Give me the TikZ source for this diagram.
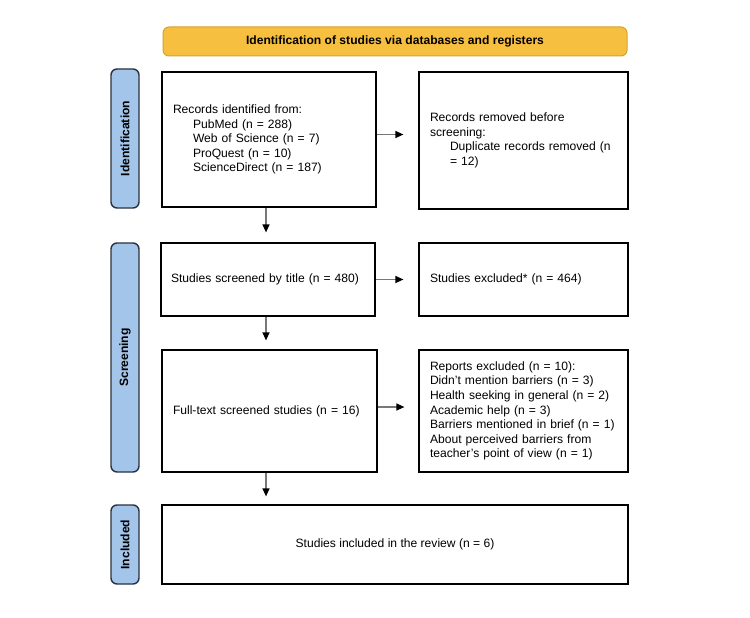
\documentclass[tikz,border=0pt]{standalone}
\usepackage{fontspec}
\setmainfont{Liberation Sans}
\usetikzlibrary{arrows.meta}
\definecolor{bannerfill}{RGB}{247,191,64}
\definecolor{bannerdraw}{RGB}{214,163,48}
\definecolor{sidefill}{RGB}{164,197,234}
\definecolor{sidedraw}{RGB}{42,50,62}
\definecolor{arrgray}{RGB}{120,120,120}
\tikzset{
  box/.style={draw=black, line width=1.2pt, fill=white, inner ysep=0pt,
    font=\fontsize{12.1}{14.6}\selectfont},
  lbox/.style={box, align=left, inner xsep=11pt},
  side/.style={draw=sidedraw, line width=1.4pt, fill=sidefill, rounded corners=6pt,
    rotate=90, minimum height=28pt, inner sep=0pt,
    font=\fontsize{12.1}{14}\selectfont\bfseries},
  banner/.style={draw=bannerdraw, line width=1pt, fill=bannerfill, rounded corners=6pt,
    minimum width=464pt, minimum height=29pt, inner sep=0pt,
    font=\fontsize{12.1}{14}\selectfont\bfseries},
  arr/.style={draw=arrgray, line width=1.2pt,
    -{Triangle[length=8pt,width=7pt,color=black]}},
}
\begin{document}
\begin{tikzpicture}[x=1pt,y=-1pt]
\useasboundingbox (0,0) rectangle (750,618);
\fill[white] (0,0) rectangle (750,618);

\node[banner] (ban) at (395,41.5) {Identification of studies via databases and registers};

\node[side, minimum width=139pt] (sid) at (125,138.5) {Identification};
\node[side, minimum width=229pt] (ssc) at (125,357.5) {Screening};
\node[side, minimum width=79pt] (sin) at (125,544.5) {Included};

\node[lbox, text width=192pt, minimum height=135pt] (b1) at (269,139.5)
  {Records identified from:\\
   \hspace*{20pt}PubMed (n = 288)\\
   \hspace*{20pt}Web of Science (n = 7)\\
   \hspace*{20pt}ProQuest (n = 10)\\
   \hspace*{20pt}ScienceDirect (n = 187)};
\node[lbox, text width=187pt, minimum height=137pt] (b2) at (523.5,140.5)
  {Records removed before\\
   screening:\\
   \hspace*{20pt}Duplicate records removed (n\\
   \hspace*{20pt}= 12)};

\node[lbox, inner xsep=10pt, text width=194pt, minimum height=73pt] (b3) at (268,279.5)
  {Studies screened by title (n = 480)};
\node[lbox, text width=187pt, minimum height=73pt] (b4) at (523.5,279.5)
  {Studies excluded* (n = 464)};

\node[lbox, text width=193pt, minimum height=122pt] (b5) at (269.5,411)
  {Full-text screened studies (n = 16)};
\node[lbox, text width=187pt, minimum height=122pt] (b6) at (523.5,411)
  {Reports excluded (n = 10):\\
   Didn’t mention barriers (n = 3)\\
   Health seeking in general (n = 2)\\
   Academic help (n = 3)\\
   \mbox{Barriers mentioned in brief (n = 1)}\\
   About perceived barriers from\\
   teacher{\char"0027}s point of view (n = 1)};

\node[box, minimum width=466pt, minimum height=79pt, inner xsep=0pt] (b7) at (395,544.5)
  {Studies included in the review (n = 6)};

\draw[arr, shorten >=15pt] ([yshift=5pt]b1.east) -- ([yshift=5pt]b1.east -| b2.west);
\draw[arr, shorten >=15pt] (b3.east) -- (b3.east -| b4.west);
\draw[arr, shorten >=14pt] ([yshift=4pt]b5.east) -- ([yshift=4pt]b5.east -| b6.west);

\draw[arr, shorten >=10pt] ([xshift=-3pt]b1.south) -- ([xshift=-3pt]b1.south |- b3.north);
\draw[arr, shorten >=9pt] ([xshift=-2pt]b3.south) -- ([xshift=-2pt]b3.south |- b5.north);
\draw[arr, shorten >=8pt] ([xshift=-3.5pt]b5.south) -- ([xshift=-3.5pt]b5.south |- b7.north);
\end{tikzpicture}
\end{document}
